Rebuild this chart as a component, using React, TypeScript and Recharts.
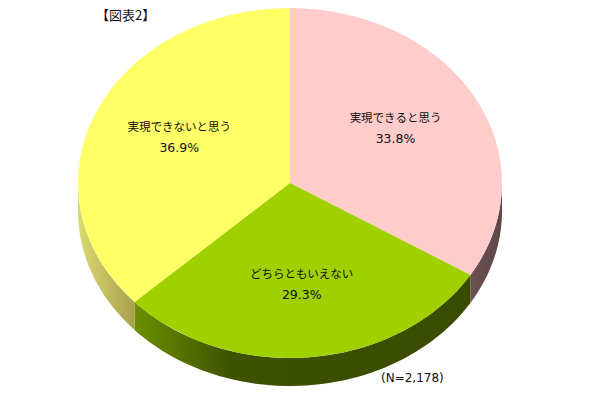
import { PieChart, Pie, Cell } from 'recharts'

const categories = ['実現できると思う', 'どちらともいえない', '実現できないと思う']
const shares = [33.8, 29.3, 36.9]
const topColors = ['#FFCCCC', '#A0D000', '#FFFF66']
const sideStops = [
  [['90%', '#705656'], ['100%', '#5E4646']],
  [['13%', '#6E9000'], ['36%', '#3E5200'], ['100%', '#384A00']],
  [['0%', '#DADA72'], ['13.5%', '#A6A04C']],
]
const title = '【図表2】'
const note = '(N=2,178)'

const data = categories.map((name, i) => ({ name, value: shares[i] }))

const CX = 290
const CY = 183
const RX = 212
const RY = 175
const DEPTH = 28
const RAD = Math.PI / 180

const pt = (t: number, dy = 0) => [CX + RX * Math.cos(t * RAD), CY + RY * Math.sin(t * RAD) + dy]

// t = screen angle (degrees, clockwise from 3 o'clock)
function sidePath(t1: number, t2: number) {
  const segs: string[] = []
  for (let k = -1; k <= 1; k++) {
    const a = Math.max(t1, k * 360)
    const b = Math.min(t2, k * 360 + 180)
    if (b <= a) continue
    const n = Math.max(4, Math.ceil((b - a) / 2))
    const top: number[][] = []
    for (let i = 0; i <= n; i++) top.push(pt(a + ((b - a) * i) / n))
    const bottom = top.map(([x, y]) => [x, y + DEPTH]).reverse()
    const all = [...top, ...bottom]
    segs.push('M' + all.map(([x, y]) => `${x.toFixed(2)},${y.toFixed(2)}`).join('L') + 'Z')
  }
  return segs.join(' ')
}

function Slice(props: any) {
  const { startAngle, endAngle, index, fill } = props
  const t1 = -startAngle
  const t2 = -endAngle
  const [x1, y1] = pt(t1)
  const [x2, y2] = pt(t2)
  const large = t2 - t1 > 180 ? 1 : 0
  const gid = `side-${index}`
  return (
    <g>
      <defs>
        <linearGradient id={gid} gradientUnits="userSpaceOnUse" x1={CX - RX} y1={0} x2={CX + RX} y2={0}>
          {sideStops[index].map(([o, c]) => (
            <stop key={o} offset={o} stopColor={c} />
          ))}
        </linearGradient>
      </defs>
      <path d={sidePath(t1, t2)} fill={`url(#${gid})`} stroke="none" />
      <path
        d={`M${CX},${CY}L${x1},${y1}A${RX},${RY} 0 ${large} 1 ${x2},${y2}Z`}
        fill={fill}
        stroke="none"
      />
    </g>
  )
}

function renderLabel(props: any) {
  const { midAngle, index } = props
  const t = -midAngle
  const x = CX + RX * 0.57 * Math.cos(t * RAD)
  const y = CY + RY * 0.6 * Math.sin(t * RAD) - 4
  return (
    <g>
      <text x={x} y={y - 6} textAnchor="middle" fontSize={11.5} fontFamily="'Noto Sans CJK JP'" fill="#111">
        {categories[index]}
      </text>
      <text x={x} y={y + 15} textAnchor="middle" fontSize={12.5} fontFamily="'DejaVu Sans'" fill="#111">
        {shares[index].toFixed(1)}%
      </text>
    </g>
  )
}

export default function App() {
  return (
    <div style={{ position: 'absolute', left: 0, top: 0, width: 600, height: 400, background: '#fff' }}>
      <PieChart width={600} height={400} margin={{ top: 0, right: 0, bottom: 0, left: 0 }}>
        <Pie
          data={data}
          dataKey="value"
          nameKey="name"
          cx={CX}
          cy={CY}
          outerRadius={RX}
          startAngle={90}
          endAngle={-270}
          isAnimationActive={false}
          shape={Slice}
          label={renderLabel}
          labelLine={false}
        >
          {data.map((d, i) => (
            <Cell key={d.name} fill={topColors[i]} />
          ))}
        </Pie>
      </PieChart>
      <div style={{ position: 'absolute', left: 96, top: 5, fontSize: 13, fontFamily: "'Noto Sans CJK JP'", color: '#111' }}>
        {title}
      </div>
      <div style={{ position: 'absolute', left: 381, top: 371, fontSize: 12, fontFamily: "'DejaVu Sans'", color: '#111' }}>
        {note}
      </div>
    </div>
  )
}
